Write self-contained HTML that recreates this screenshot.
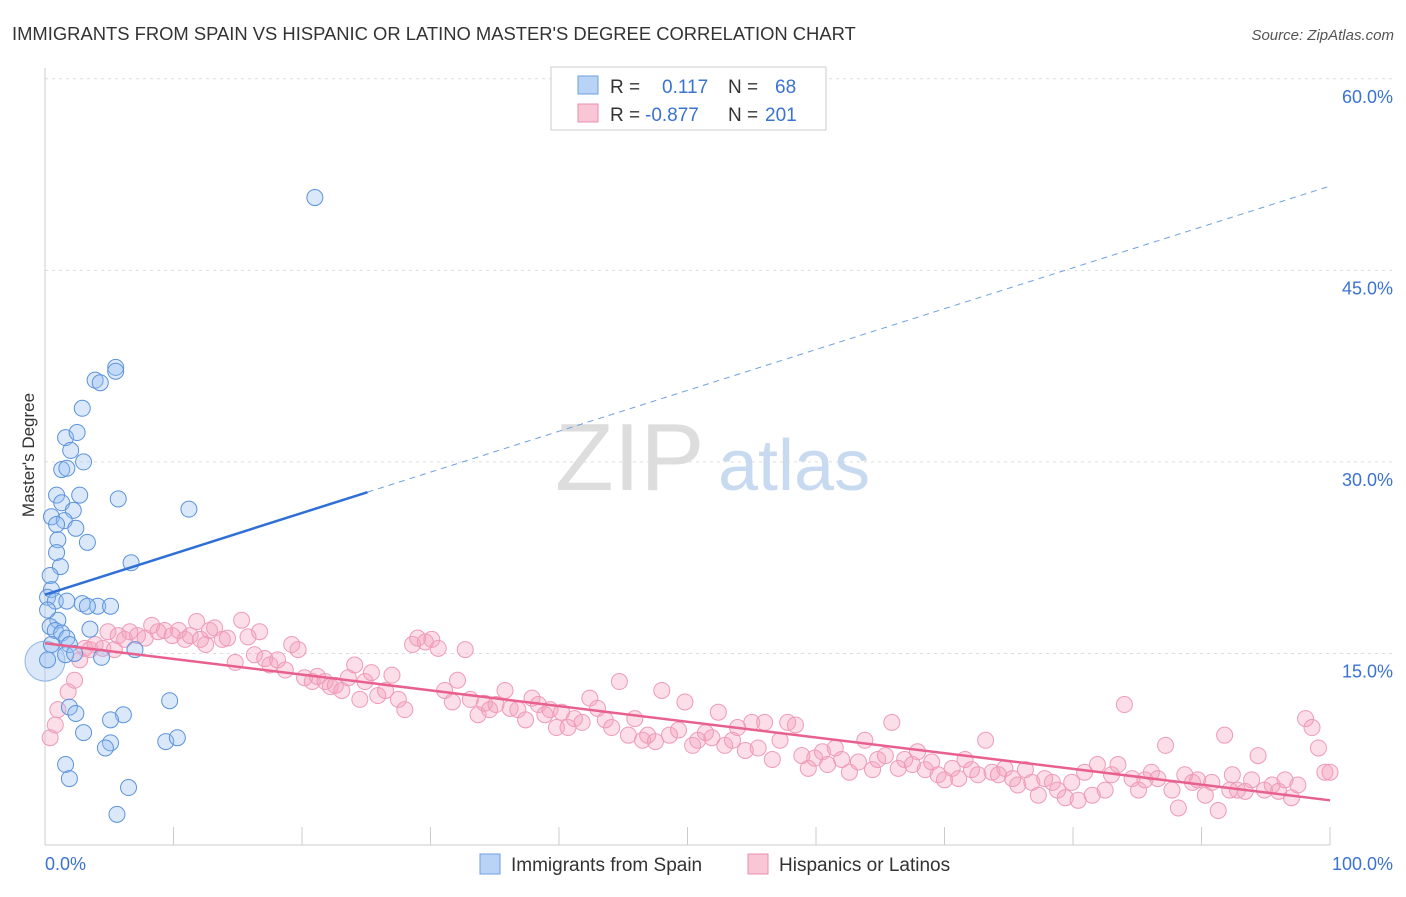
<!DOCTYPE html>
<html><head><meta charset="utf-8"><style>
body{margin:0;background:#fff;font-family:"Liberation Sans",sans-serif;}
svg text{font-family:"Liberation Sans",sans-serif;}
</style></head><body>
<svg width="1406" height="892" id="chart">
<text x="12" y="40" font-size="18.4" fill="#333">IMMIGRANTS FROM SPAIN VS HISPANIC OR LATINO MASTER'S DEGREE CORRELATION CHART</text>
<text x="1394" y="40" font-size="15" fill="#555" font-style="italic" text-anchor="end">Source: ZipAtlas.com</text>
<text x="34" y="455" font-size="17" fill="#333" text-anchor="middle" transform="rotate(-90 34 455)">Master's Degree</text>
<g id="grid"></g>
<g id="axes"></g>
<text x="555" y="490" font-size="96" fill="#ddd" font-family="Liberation Serif">ZIP</text>
<text x="718" y="490" font-size="72" fill="#c8daf0">atlas</text>
<g id="pink"></g>
<g id="blue"></g>
<g id="trends"></g>
<g>
<rect x="551" y="67" width="275" height="63" fill="#fff" stroke="#ccc"/>
<rect x="578" y="76" width="20" height="18" fill="#b8d3f5" stroke="#6fa0e0"/>
<rect x="578" y="104" width="20" height="18" fill="#f9c6d6" stroke="#ea8fb0"/>
<text x="610" y="93" font-size="19" fill="#333">R = <tspan fill="#3a73d0" x="662">0.117</tspan><tspan fill="#333" x="728">N = </tspan><tspan fill="#3a73d0" x="775">68</tspan></text>
<text x="610" y="121" font-size="19" fill="#333">R = <tspan fill="#3a73d0" x="645">-0.877</tspan><tspan fill="#333" x="728">N = </tspan><tspan fill="#3a73d0" x="765">201</tspan></text>
</g>
<g>
<rect x="480" y="854" width="20" height="20" fill="#b8d3f5" stroke="#6fa0e0"/>
<text x="511" y="871" font-size="19" fill="#333">Immigrants from Spain</text>
<rect x="748" y="854" width="20" height="20" fill="#f9c6d6" stroke="#ea8fb0"/>
<text x="779" y="871" font-size="19" fill="#333">Hispanics or Latinos</text>
</g>
</svg>
<script>
const yTicks=[15,30,45,60];
const yTickLabels=["15.0%","30.0%","45.0%","60.0%"];
const xTickLabels=["0.0%","100.0%"];
const blueX=[21.0,5.5,3.9,4.3,5.5,2.9,1.6,2.5,2.0,3.0,1.3,1.7,2.7,0.9,1.3,5.7,2.2,0.5,1.5,0.9,2.4,11.2,1.0,3.3,0.9,1.2,6.7,0.4,0.5,0.2,0.8,1.7,2.9,4.1,5.1,3.3,1.0,0.4,0.8,1.3,3.5,1.7,1.9,7.0,1.6,2.3,4.4,0.2,1.9,2.4,6.1,5.1,9.7,3.0,5.1,4.7,9.4,10.3,1.6,1.9,6.5,5.6,0.2,0.5];
const blueY=[50.7,37.4,36.4,36.2,37.1,34.2,31.9,32.3,30.9,30.0,29.4,29.5,27.4,27.4,26.8,27.1,26.2,25.7,25.4,25.1,24.8,26.3,23.9,23.7,22.9,21.8,22.1,21.1,20.0,19.4,19.1,19.1,18.9,18.7,18.7,18.7,17.6,17.1,16.8,16.6,16.9,16.2,15.7,15.3,14.9,15.0,14.7,14.5,10.8,10.3,10.2,9.8,11.3,8.8,8.0,7.6,8.1,8.4,6.3,5.2,4.5,2.4,18.4,15.7];
const bigBlueX=[0.0];
const bigBlueY=[14.4];
const pinkX=[0.4,0.8,1.0,1.8,2.3,2.7,3.1,3.5,3.9,4.5,4.9,5.4,5.7,6.2,6.6,7.2,7.8,8.3,8.8,9.3,9.9,10.4,10.9,11.3,11.8,12.1,12.5,12.8,13.2,13.8,14.2,14.8,15.3,15.8,16.3,16.7,17.1,17.5,18.1,18.7,19.2,19.7,20.2,20.8,21.2,21.8,22.2,22.6,23.1,23.6,24.1,24.5,24.9,25.4,25.9,26.5,27.0,27.5,28.0,28.6,29.0,29.6,30.1,30.6,31.1,31.7,32.1,32.7,33.1,33.7,34.2,34.6,35.1,35.8,36.2,36.8,37.4,37.9,38.4,38.9,39.3,39.8,40.2,40.7,41.2,41.8,42.4,43.0,43.6,44.1,44.7,45.4,45.9,46.5,46.9,47.5,48.0,48.6,49.3,49.8,50.4,50.8,51.4,51.9,52.4,52.9,53.5,53.9,54.5,55.0,55.5,56.0,56.6,57.2,57.8,58.4,58.9,59.4,59.9,60.5,60.9,61.5,62.0,62.6,63.3,63.8,64.4,64.8,65.4,65.9,66.4,66.9,67.5,67.9,68.5,69.0,69.5,70.0,70.6,71.1,71.6,72.1,72.6,73.2,73.7,74.2,74.7,75.3,75.7,76.3,76.8,77.3,77.8,78.4,78.8,79.4,79.9,80.4,80.9,81.5,81.9,82.5,83.0,83.5,84.0,84.6,85.1,85.6,86.1,86.6,87.2,87.7,88.2,88.7,89.3,89.7,90.3,90.8,91.3,91.8,92.4,92.8,93.4,93.9,94.4,94.9,95.5,96.0,96.5,97.0,97.5,98.1,98.6,99.1,99.6,100,92.2];
const pinkY=[8.4,9.4,10.6,12.0,12.9,14.5,15.4,15.3,15.7,15.4,16.7,15.3,16.4,16.1,16.7,16.4,16.2,17.2,16.7,16.8,16.4,16.8,16.1,16.4,17.5,16.1,15.7,16.8,17.0,16.1,16.2,14.3,17.6,16.3,14.9,16.7,14.6,14.1,14.5,13.7,15.7,15.3,13.1,12.8,13.2,12.8,12.4,12.5,12.1,13.1,14.1,11.4,12.8,13.5,11.7,12.1,13.3,11.4,10.6,15.7,16.2,15.9,16.1,15.4,12.1,11.2,12.9,15.3,11.4,10.2,11.1,10.6,11.0,12.1,10.7,10.6,9.8,11.5,11.0,10.2,10.6,9.2,10.4,9.2,9.9,9.6,11.5,10.7,9.8,9.2,12.8,8.6,9.9,8.2,8.6,8.1,12.1,8.6,9.0,11.2,7.8,8.2,8.8,8.4,10.4,7.8,8.2,9.2,7.4,9.6,7.6,9.6,6.7,8.2,9.6,9.4,7.0,6.0,6.8,7.3,6.3,7.6,6.7,5.7,6.5,8.2,5.9,6.7,7.0,9.6,6.0,6.7,6.3,7.3,5.9,6.5,5.5,5.1,6.0,5.2,6.7,5.9,5.5,8.2,5.7,5.5,6.0,5.2,4.7,5.9,4.9,3.9,5.2,4.9,4.3,3.7,4.9,3.5,5.7,3.9,6.3,4.3,5.5,6.3,11.0,5.2,4.3,5.1,5.7,5.2,7.8,4.3,2.9,5.5,4.9,5.1,3.9,4.9,2.7,8.6,5.5,4.3,4.2,5.1,7.0,4.3,4.7,4.2,5.1,3.7,4.7,9.9,9.2,7.6,5.7,5.7,4.3];
const blueTrend=[19.6,0.32];
const blueSolidEnd=25.1;
const pinkTrend=[15.8,-0.123];
const X0=45,X1=1330,Y0=845,YPX=12.77;
const sx=v=>X0+(X1-X0)*v/100, sy=v=>Y0-v*YPX;
const NS="http://www.w3.org/2000/svg";
function mk(t,a,p){const e=document.createElementNS(NS,t);for(const k in a)e.setAttribute(k,a[k]);p.appendChild(e);return e;}
const grid=document.getElementById('grid'),axes=document.getElementById('axes');
yTicks.forEach((t,i)=>{
 const l=mk('line',{x1:X0,x2:1394,y1:sy(t),y2:sy(t),stroke:'#ddd','stroke-dasharray':'3,4'},grid);
 
 
 const tx=mk('text',{x:1393,y:sy(t)+24,'font-size':18,fill:'#3a73d0','text-anchor':'end'},axes);
 tx.textContent=yTickLabels[i];
 
 
});
const xa=mk('line',{x1:X0,x2:X1,y1:Y0,y2:Y0,stroke:'#ccc'},axes);


const ya=mk('line',{x1:X0,x2:X0,y1:68,y2:Y0,stroke:'#ccc'},axes);


for(let i=0;i<=10;i++){const tk=mk('line',{x1:sx(i*10),x2:sx(i*10),y1:Y0,y2:Y0-18,stroke:'#ccc'},axes);
 
 }
[[0,'start',45],[100,'end',1393]].forEach((d,i)=>{const tx=mk('text',{x:d[2],y:870,'font-size':18,fill:'#3a73d0','text-anchor':d[1]},axes);tx.textContent=xTickLabels[i];
 
 });
const pg=document.getElementById('pink');
pinkX.forEach((x,i)=>{const c=mk('circle',{cx:sx(x),cy:sy(pinkY[i]),r:8,fill:'rgba(244,160,190,0.35)',stroke:'#ef9ab8','stroke-width':1},pg);
 
 });
const bg=document.getElementById('blue');
bigBlueX.forEach((x,i)=>{const c=mk('circle',{cx:sx(x),cy:sy(bigBlueY[i]),r:20,fill:'rgba(150,190,240,0.35)',stroke:'#8fb5e6','stroke-width':1},bg);
 
 });
blueX.forEach((x,i)=>{const c=mk('circle',{cx:sx(x),cy:sy(blueY[i]),r:8,fill:'rgba(150,190,240,0.35)',stroke:'#5b93dc','stroke-width':1},bg);
 
 });
const tg=document.getElementById('trends');
const f=(t,x)=>t[0]+t[1]*x;
const b1=mk('line',{x1:sx(0),y1:sy(f(blueTrend,0)),x2:sx(blueSolidEnd),y2:sy(f(blueTrend,blueSolidEnd)),stroke:'#2f6fd6','stroke-width':2.5},tg);


const b2=mk('line',{x1:sx(blueSolidEnd),y1:sy(f(blueTrend,blueSolidEnd)),x2:sx(100),y2:sy(f(blueTrend,100)),stroke:'#6fa0e0','stroke-width':1,'stroke-dasharray':'6,5'},tg);


const p1=mk('line',{x1:sx(0),y1:sy(f(pinkTrend,0)),x2:sx(100),y2:sy(f(pinkTrend,100)),stroke:'#e8608e','stroke-width':2.5},tg);


</script>
</body></html>
